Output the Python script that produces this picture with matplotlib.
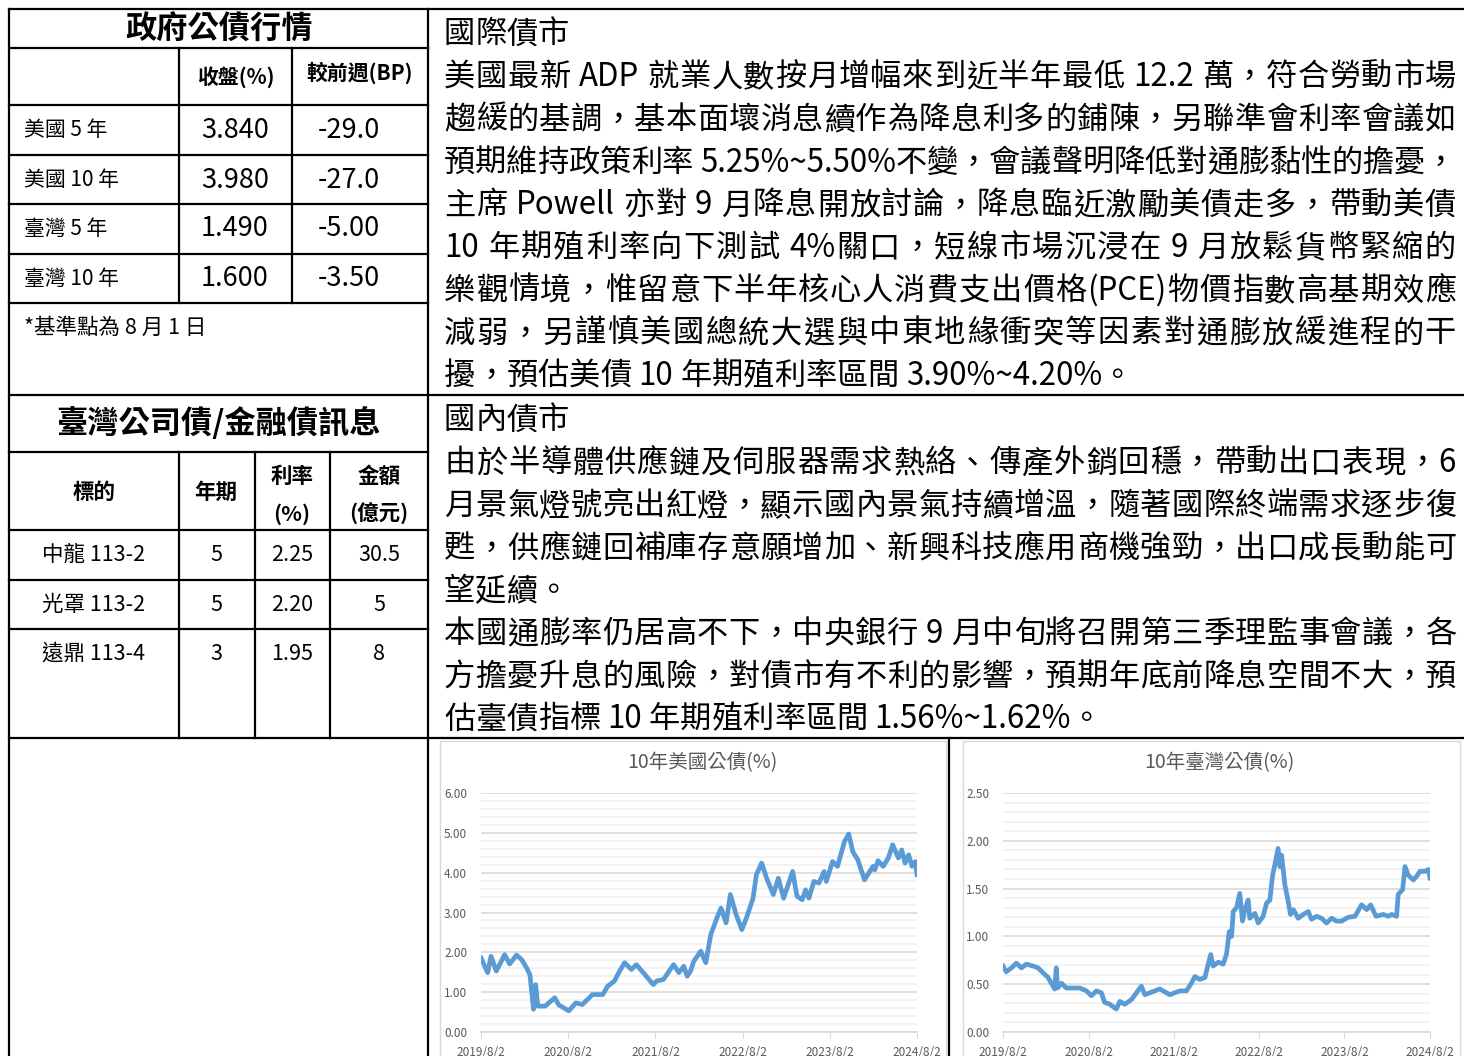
import matplotlib
matplotlib.use('Agg')
import re
import matplotlib.pyplot as plt
import pandas as pd
from matplotlib.patches import Rectangle
from matplotlib.font_manager import FontProperties
from matplotlib.ticker import MultipleLocator

plt.rcParams['font.family'] = ['Noto Sans CJK TC', 'DejaVu Sans']

# ---- table 1: government bonds ----
gov_title = "政府公債行情"
gov_headers = ["收盤(%)", "較前週(BP)"]
gov_names = ["美國 5 年", "美國 10 年", "臺灣 5 年", "臺灣 10 年"]
gov_close = ["3.840", "3.980", "1.490", "1.600"]
gov_change = ["-29.0", "-27.0", "-5.00", "-3.50"]
gov_note = "*基準點為 8 月 1 日"

# ---- table 2: corporate / financial bonds ----
corp_title = "臺灣公司債/金融債訊息"
corp_names = ["中龍 113-2", "光罩 113-2", "遠鼎 113-4"]
corp_terms = ["5", "5", "3"]
corp_rates = ["2.25", "2.20", "1.95"]
corp_amounts = ["30.5", "5", "8"]

# ---- commentary ----
intl_head = "國際債市"
intl_lines = [
    "美國最新 ADP 就業人數按月增幅來到近半年最低 12.2 萬，符合勞動市場",
    "趨緩的基調，基本面壞消息續作為降息利多的鋪陳，另聯準會利率會議如",
    "預期維持政策利率 5.25%~5.50%不變，會議聲明降低對通膨黏性的擔憂，",
    "主席 Powell 亦對 9 月降息開放討論，降息臨近激勵美債走多，帶動美債",
    "10 年期殖利率向下測試 4%關口，短線市場沉浸在 9 月放鬆貨幣緊縮的",
    "樂觀情境，惟留意下半年核心人消費支出價格(PCE)物價指數高基期效應",
    "減弱，另謹慎美國總統大選與中東地緣衝突等因素對通膨放緩進程的干",
    "擾，預估美債 10 年期殖利率區間 3.90%~4.20%。",
]
dom_head = "國內債市"
dom_lines = [
    "由於半導體供應鏈及伺服器需求熱絡、傳產外銷回穩，帶動出口表現，6",
    "月景氣燈號亮出紅燈，顯示國內景氣持續增溫，隨著國際終端需求逐步復",
    "甦，供應鏈回補庫存意願增加、新興科技應用商機強勁，出口成長動能可",
    "望延續。",
    "本國通膨率仍居高不下，中央銀行 9 月中旬將召開第三季理監事會議，各",
    "方擔憂升息的風險，對債市有不利的影響，預期年底前降息空間不大，預",
    "估臺債指標 10 年期殖利率區間 1.56%~1.62%。",
]

# ---- charts ----
x_ticks = ["2019/8/2", "2020/8/2", "2021/8/2", "2022/8/2", "2023/8/2", "2024/8/2"]

us_title = "10年美國公債(%)"
us_dates = [
    "2019-08-02", "2019-08-30", "2019-09-13", "2019-10-05", "2019-11-09", "2019-11-30",
    "2019-12-29", "2020-01-19", "2020-02-09", "2020-02-23", "2020-03-09", "2020-03-18",
    "2020-03-27", "2020-04-27", "2020-06-06", "2020-06-23", "2020-08-04", "2020-09-02",
    "2020-09-30", "2020-11-11", "2020-12-24", "2021-01-14", "2021-02-11", "2021-03-05",
    "2021-03-26", "2021-04-23", "2021-05-14", "2021-06-12", "2021-07-24", "2021-08-07",
    "2021-09-05", "2021-10-03", "2021-10-17", "2021-11-08", "2021-11-29", "2021-12-13",
    "2021-12-27", "2022-01-10", "2022-02-08", "2022-03-01", "2022-03-22", "2022-04-19",
    "2022-05-04", "2022-05-25", "2022-06-12", "2022-07-06", "2022-07-30", "2022-08-18",
    "2022-09-15", "2022-09-29", "2022-10-21", "2022-11-11", "2022-12-09", "2022-12-30",
    "2023-01-21", "2023-02-28", "2023-03-18", "2023-04-09", "2023-04-23", "2023-05-07",
    "2023-05-28", "2023-06-18", "2023-07-10", "2023-07-19", "2023-08-14", "2023-09-04",
    "2023-10-03", "2023-10-21", "2023-11-07", "2023-11-28", "2023-12-26", "2024-01-17",
    "2024-01-31", "2024-02-07", "2024-02-21", "2024-03-13", "2024-04-04", "2024-04-22",
    "2024-05-16", "2024-05-30", "2024-06-13", "2024-06-28", "2024-07-12", "2024-07-26",
    "2024-08-02",
]
us_yield = [
    1.86, 1.49, 1.90, 1.53, 1.94, 1.71,
    1.93, 1.82, 1.61, 1.44, 0.57, 1.19,
    0.65, 0.65, 0.86, 0.68, 0.53, 0.73,
    0.69, 0.94, 0.94, 1.15, 1.28, 1.53,
    1.74, 1.57, 1.69, 1.49, 1.19, 1.28,
    1.32, 1.57, 1.69, 1.49, 1.65, 1.40,
    1.53, 1.78, 2.03, 1.74, 2.45, 2.90,
    3.11, 2.74, 3.45, 2.95, 2.57, 2.86,
    3.36, 3.95, 4.24, 3.86, 3.45, 3.86,
    3.36, 4.03, 3.41, 3.32, 3.57, 3.36,
    3.78, 3.74, 4.03, 3.78, 4.28, 4.16,
    4.78, 4.97, 4.53, 4.32, 3.82, 4.03,
    4.16, 4.07, 4.30, 4.16, 4.37, 4.70,
    4.37, 4.57, 4.24, 4.45, 4.16, 4.28,
    3.95,
]

tw_title = "10年臺灣公債(%)"
tw_dates = [
    "2019-08-02", "2019-08-16", "2019-09-07", "2019-09-28", "2019-10-20", "2019-11-10",
    "2019-12-08", "2019-12-30", "2020-01-20", "2020-02-11", "2020-03-03", "2020-03-10",
    "2020-03-17", "2020-03-22", "2020-04-08", "2020-04-29", "2020-05-28", "2020-06-25",
    "2020-07-24", "2020-08-14", "2020-09-05", "2020-09-26", "2020-10-10", "2020-11-01",
    "2020-11-29", "2020-12-14", "2021-01-04", "2021-02-02", "2021-02-23", "2021-03-16",
    "2021-03-31", "2021-04-21", "2021-06-03", "2021-07-16", "2021-08-27", "2021-09-25",
    "2021-10-16", "2021-10-31", "2021-11-21", "2021-12-13", "2021-12-27", "2022-01-07",
    "2022-01-17", "2022-02-08", "2022-03-01", "2022-03-15", "2022-03-27", "2022-04-06",
    "2022-04-13", "2022-04-27", "2022-05-11", "2022-05-23", "2022-06-02", "2022-06-16",
    "2022-06-23", "2022-07-15", "2022-07-29", "2022-08-19", "2022-09-03", "2022-09-17",
    "2022-09-28", "2022-10-08", "2022-10-22", "2022-10-30", "2022-11-06", "2022-11-20",
    "2022-12-04", "2022-12-14", "2022-12-26", "2023-01-16", "2023-02-07", "2023-02-28",
    "2023-03-14", "2023-04-05", "2023-04-26", "2023-05-17", "2023-06-08", "2023-06-29",
    "2023-07-21", "2023-08-18", "2023-09-16", "2023-10-14", "2023-11-05", "2023-11-22",
    "2023-12-15", "2024-01-15", "2024-02-06", "2024-02-20", "2024-03-12", "2024-03-19",
    "2024-04-07", "2024-04-17", "2024-05-01", "2024-05-23", "2024-06-06", "2024-06-20",
    "2024-07-12", "2024-07-26", "2024-08-02",
]
tw_yield = [
    0.69, 0.63, 0.67, 0.72, 0.67, 0.71,
    0.69, 0.67, 0.62, 0.57, 0.48, 0.45,
    0.67, 0.46, 0.51, 0.46, 0.46, 0.46,
    0.43, 0.38, 0.43, 0.41, 0.31, 0.29,
    0.24, 0.32, 0.29, 0.34, 0.41, 0.48,
    0.39, 0.41, 0.45, 0.39, 0.43, 0.43,
    0.51, 0.58, 0.55, 0.57, 0.71, 0.81,
    0.69, 0.73, 0.71, 0.81, 1.05, 1.00,
    1.26, 1.30, 1.45, 1.16, 1.28, 1.38,
    1.19, 1.24, 1.14, 1.21, 1.35, 1.38,
    1.63, 1.75, 1.92, 1.73, 1.85, 1.54,
    1.37, 1.23, 1.28, 1.19, 1.23, 1.26,
    1.18, 1.21, 1.19, 1.14, 1.19, 1.16,
    1.16, 1.20, 1.21, 1.33, 1.28, 1.33,
    1.21, 1.23, 1.21, 1.23, 1.21, 1.44,
    1.49, 1.73, 1.64, 1.59, 1.63, 1.68,
    1.68, 1.70, 1.61,
]

W, H = 1464, 1056
LINE_BLUE = "#5B9BD5"
GRAY_TXT = "#595959"

fig = plt.figure(figsize=(W / 100, H / 100), dpi=100, facecolor="white")
bg = fig.add_axes([0, 0, 1, 1])
bg.set_xlim(0, W)
bg.set_ylim(H, 0)
bg.axis("off")
renderer = fig.canvas.get_renderer()


def hline(y, x0, x1, lw=1.6):
    bg.plot([x0, x1], [y, y], color="black", lw=lw, solid_capstyle="projecting")


def vline(x, y0, y1, lw=1.6):
    bg.plot([x, x], [y0, y1], color="black", lw=lw, solid_capstyle="projecting")


def advance(s, prop):
    # width of s measured between two bookend glyphs
    w2 = renderer.get_text_width_height_descent("國國", prop, ismath=False)[0]
    w3 = renderer.get_text_width_height_descent("國" + s + "國", prop, ismath=False)[0]
    return w3 - w2


def text_line(s, x0, x1, y, fs, justify=True):
    prop = FontProperties(family=["Noto Sans CJK TC", "DejaVu Sans"], size=fs)
    # latin runs stay together, every CJK char and space is its own token
    tokens = re.findall(r"[!-~]+|.", s)
    adv = [advance(t, prop) for t in tokens]
    total = sum(adv)
    gap = (x1 - x0 - total) / (len(tokens) - 1) if justify and len(tokens) > 1 else 0
    x = x0
    base = y + 0.36 * fs * 100 / 72
    for t, a in zip(tokens, adv):
        if t != " ":
            bg.text(x, base, t, fontproperties=prop, ha="left", va="baseline", color="black")
        x += a + gap


# ---- grid lines ----
hline(9, 9, W)
hline(395, 9, W)
hline(738, 9, W)
for y in [48, 105, 155, 204, 254, 303, 452, 530, 580, 629]:
    hline(y, 9, 428)
vline(9, 9, H + 5)
vline(428, 9, H + 5)
vline(179, 48, 303)
vline(292, 48, 303)
for x in [179, 255, 330]:
    vline(x, 452, 738)
vline(949, 738, H + 5)

# ---- table 1 ----
bg.text(219, 30, gov_title, fontsize=22.5, fontweight="bold", ha="center", va="center")
bg.text(236, 77, gov_headers[0], fontsize=15, fontweight="bold", ha="center", va="center")
bg.text(360, 73, gov_headers[1], fontsize=15, fontweight="bold", ha="center", va="center")
row_y = [130, 180, 229, 279]
for y, name, c, d in zip(row_y, gov_names, gov_close, gov_change):
    bg.text(24, y, name, fontsize=15, ha="left", va="center")
    bg.text(235, y, c, fontsize=19.5, ha="center", va="center")
    bg.text(349, y, d, fontsize=19.5, ha="center", va="center")
bg.text(24, 328, gov_note, fontsize=15.5, ha="left", va="center")

# ---- table 2 ----
bg.text(219, 424, corp_title, fontsize=22.5, fontweight="bold", ha="center", va="center")
bg.text(94, 492, "標的", fontsize=15.5, fontweight="bold", ha="center", va="center")
bg.text(216, 492, "年期", fontsize=15.5, fontweight="bold", ha="center", va="center")
bg.text(292, 476, "利率", fontsize=15.5, fontweight="bold", ha="center", va="center")
bg.text(292, 514, "(%)", fontsize=15.5, fontweight="bold", ha="center", va="center")
bg.text(379, 476, "金額", fontsize=15.5, fontweight="bold", ha="center", va="center")
bg.text(379, 514, "(億元)", fontsize=15.5, fontweight="bold", ha="center", va="center")
for y, n, t, r, a in zip([555, 605, 654], corp_names, corp_terms, corp_rates, corp_amounts):
    bg.text(94, y, n, fontsize=15.5, ha="center", va="center")
    bg.text(216, y, t, fontsize=15.5, ha="center", va="center")
    bg.text(292, y, r, fontsize=15.5, ha="center", va="center")
    bg.text(379, y, a, fontsize=15.5, ha="center", va="center")

# ---- commentary ----
FS = 22.5
LX0, LX1 = 444, 1456
text_line(intl_head, LX0, LX1, 32, FS, justify=False)
for i, s in enumerate(intl_lines):
    text_line(s, LX0, LX1, 75 + i * 42.7, FS, justify=(i != len(intl_lines) - 1))
text_line(dom_head, LX0, LX1, 418, FS, justify=False)
dom_last = {3, 6}
for i, s in enumerate(dom_lines):
    text_line(s, LX0, LX1, 461 + i * 42.7, FS, justify=(i not in dom_last))


# ---- charts ----
def draw_chart(frame_x0, frame_x1, px0, px1, dates, vals, title, ymax, major, minor):
    bg.add_patch(Rectangle((frame_x0, 741), frame_x1 - frame_x0, 330, facecolor="white",
                           edgecolor="#d9d9d9", lw=1))
    bg.text((px0 + px1) / 2 + 3, 763, title, fontsize=14, color=GRAY_TXT, ha="center", va="center")
    cax = fig.add_axes([px0 / W, (H - 1032) / H, (px1 - px0) / W, (1032 - 793) / H])
    cax.set_facecolor("none")
    x = pd.to_datetime(dates)
    ticks = pd.to_datetime(x_ticks, format="%Y/%m/%d")
    cax.plot(x, vals, color=LINE_BLUE, lw=3.4, solid_joinstyle="round", zorder=3)
    cax.set_xlim(ticks[0], ticks[-1])
    cax.set_ylim(0, ymax)
    cax.yaxis.set_major_locator(MultipleLocator(major))
    cax.yaxis.set_minor_locator(MultipleLocator(minor))
    cax.grid(axis="y", which="major", color="#d9d9d9", lw=1.2)
    cax.grid(axis="y", which="minor", color="#f0f0f0", lw=1.2)
    cax.set_axisbelow(True)
    cax.set_yticks(cax.get_yticks())
    cax.set_yticklabels([f"{v:.2f}" for v in cax.get_yticks()])
    cax.set_ylim(0, ymax)
    cax.set_xticks(ticks)
    cax.set_xticklabels(x_ticks)
    for s in ["top", "right", "left"]:
        cax.spines[s].set_visible(False)
    cax.spines["bottom"].set_color("#d9d9d9")
    cax.spines["bottom"].set_linewidth(1.2)
    cax.tick_params(axis="y", which="both", length=0, pad=10, labelsize=8.5, labelcolor=GRAY_TXT)
    cax.tick_params(axis="x", length=4, color="#d9d9d9", pad=6, labelsize=8.5, labelcolor=GRAY_TXT)
    return cax


draw_chart(440, 946, 481, 917, us_dates, us_yield, us_title, 6.0, 1.0, 0.2)
draw_chart(963, 1460, 1003, 1430, tw_dates, tw_yield, tw_title, 2.5, 0.5, 0.1)

fig.savefig("out.png", dpi=100, facecolor="white")
